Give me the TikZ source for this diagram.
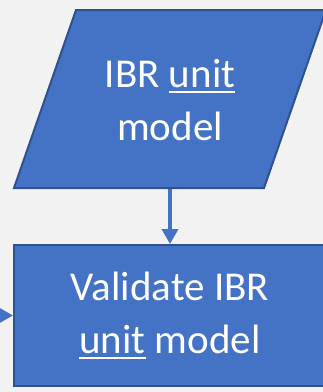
\documentclass[tikz,border=0pt]{standalone}
\usepackage{fontspec}
\setmainfont{Carlito}
\usetikzlibrary{arrows.meta}
\definecolor{pagebg}{HTML}{F2F2F2}
\definecolor{boxfill}{HTML}{4472C4}
\definecolor{boxline}{HTML}{2F528F}
% underline a word with a rule set just below the baseline
\newsavebox{\ulwordbox}
\newcommand{\ulword}[1]{\sbox{\ulwordbox}{#1}\rlap{\rule[-5.5pt]{\wd\ulwordbox}{1.8pt}}\usebox{\ulwordbox}}
\tikzset{
  flowshape/.style={fill=boxfill, draw=boxline, line width=2pt},
  flowtext/.style={text=white, align=center,
    font=\fontsize{41pt}{53pt}\selectfont, inner sep=0pt},
  flowarrow/.style={draw=boxfill, line width=3.5pt,
    -{Triangle[length=15pt, width=16pt]}}
}
\begin{document}
\begin{tikzpicture}[x=1pt, y=-1pt]
  \fill[pagebg] (0,0) rectangle (323,392);
  \useasboundingbox (0,0) rectangle (323,392);

  % input parallelogram
  \coordinate (inTL) at (76,10);
  \coordinate (inTR) at (326,10);
  \coordinate (inBR) at (264,188);
  \coordinate (inBL) at (14,188);
  \path[flowshape] (inTL) -- (inTR) -- (inBR) -- (inBL) -- cycle;
  \node[flowtext] (inText) at (170,100) {IBR \ulword{unit}\\model};
  \coordinate (inBottom) at (170,189);

  % validation step
  \node[flowshape, flowtext, minimum width=312pt, minimum height=141pt,
        outer sep=1pt] (validate) at (170,315.5)
        {Validate IBR\\\ulword{unit} model};

  % connectors
  \coordinate (feedIn) at (-20,315.5);
  \draw[flowarrow] (inBottom) -- (validate.north);
  \draw[flowarrow] (feedIn) -- (validate.west);
\end{tikzpicture}
\end{document}
